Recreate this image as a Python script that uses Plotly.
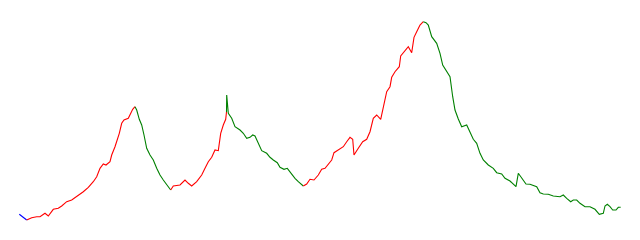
import plotly.graph_objects as go

# Series (x = time index, y = level)
x = [19.3, 22, 26.7, 31.7, 36.7, 40, 45, 48.3, 53.3, 58.3, 61.7, 66.7, 71.7, 76.7, 83.3, 88.3, 93.3, 96.7,
     100, 103.3, 106, 110, 111.7, 115, 117.3, 119.3, 121.7, 124, 128.3, 130, 132.7, 135,
     136.7, 139.3, 141.7, 144, 146.7, 150, 153.3, 156.7, 160, 163.3, 166.7, 170.7,
     173.3, 180, 185, 188.3, 191.7, 196.7, 201.7, 205, 208.3, 211.7, 215, 218.3, 220.7, 223.3, 225.7, 226.5,
     226.7, 228.3, 231.7, 235, 240, 243.3, 246.7, 250, 252.7, 255, 258.3, 261.7, 266.7, 270, 273.3, 277.3,
     280, 284, 287.3, 290.7, 295, 298.3, 303.3,
     306.7, 310, 314, 318.3, 321.7, 325, 328.3, 331.7, 334, 338.3, 343.3, 346.7, 350, 352.7, 354, 358.3,
     362.7, 366.7, 370, 373.3, 376.7, 380.7, 383.3, 386.7, 390, 391.7, 395, 399.3, 400.7, 404, 408.3,
     411.7, 414, 416.7, 420, 423.3,
     426, 428.3, 431.7, 436.7, 440, 442.7, 446, 450, 452.7, 455, 458.3, 461.7, 466.7, 470, 473.3, 476.7,
     480, 483.3, 488.3, 493.3, 496.7, 501.7, 505, 510, 516, 518.3, 521.7, 526, 530, 536.7, 540, 543.3,
     548.3, 553.3, 560, 563.3, 566.7, 570.7, 573.3, 576.7, 580, 585, 590, 595, 599.3, 603.3, 605, 607.3,
     610, 612.7, 616, 618.3, 620.7]
y = [25.7, 23.5, 20, 22.3, 23.3, 23.3, 26.7, 24, 30.7, 31.7, 34, 38.3, 40, 43.3, 48.3, 52.7, 58.3, 63.3,
     71.7, 76, 75, 78.3, 85, 93.3, 100, 106.7, 116.7, 120, 121.7, 125, 130.7, 133.3,
     130, 120.7, 115, 105, 91.7, 85, 80, 71.7, 65, 60, 55, 50,
     54, 55, 60, 56.7, 54, 58.3, 65, 71.7, 78.3, 82.7, 90, 89.3, 106.7, 115, 120.7, 128,
     145, 126.7, 121.7, 113.3, 110, 106.7, 101.7, 102.7, 105, 104, 96.7, 89.3, 86.7, 82.7, 80, 77.3,
     72.7, 70.7, 71.7, 66.7, 61.7, 58.3, 54,
     56, 60.7, 60, 65, 70.7, 71.7, 76, 80, 87.3, 90, 93.3, 98.3, 102.7, 100.7, 85, 91.7,
     98.3, 100.7, 108.3, 121.7, 125, 120.7, 133.3, 148.3, 153.3, 162.7, 168.3, 173.3, 184, 188.3, 193.3,
     187.3, 202.7, 208.3, 215, 218.3,
     217.3, 215, 203.3, 196.7, 186.7, 175, 170, 163.3, 143.3, 130, 121, 113.3, 115, 108.3, 100.7, 96.7,
     86.7, 80, 75, 71.7, 67.3, 66, 61.7, 59, 53.3, 66.7, 61.7, 56, 55.7, 53.3, 47.3, 46,
     45.7, 44, 43.3, 45, 41.7, 38.3, 40, 40, 36.7, 33.3, 33.3, 30.7, 25.7, 26.7, 34, 35.7,
     33.3, 30, 30, 32.7, 32.7]
# Trend regime of the segment that starts at each point
trend = (["start"] * 2 + ["up"] * 29 + ["down"] * 12 + ["up"] * 16 + ["down"] * 23
         + ["up"] * 36 + ["down"] * 53)

colors = {"start": "blue", "up": "red", "down": "green"}

fig = go.Figure()
n = len(x)
i = 0
while i < n - 1:
    j = i
    while j + 1 < n - 1 and trend[j + 1] == trend[i]:
        j += 1
    fig.add_trace(go.Scatter(x=x[i:j + 2], y=y[i:j + 2], mode="lines",
                             line=dict(color=colors[trend[i]], width=1.1),
                             hoverinfo="skip", showlegend=False))
    i = j + 1

fig.update_layout(width=640, height=240, margin=dict(l=0, r=0, t=0, b=0),
                  paper_bgcolor="white", plot_bgcolor="white", showlegend=False)
fig.update_xaxes(visible=False, range=[0, 640])
fig.update_yaxes(visible=False, range=[0, 240])
fig.write_html("out.html")
